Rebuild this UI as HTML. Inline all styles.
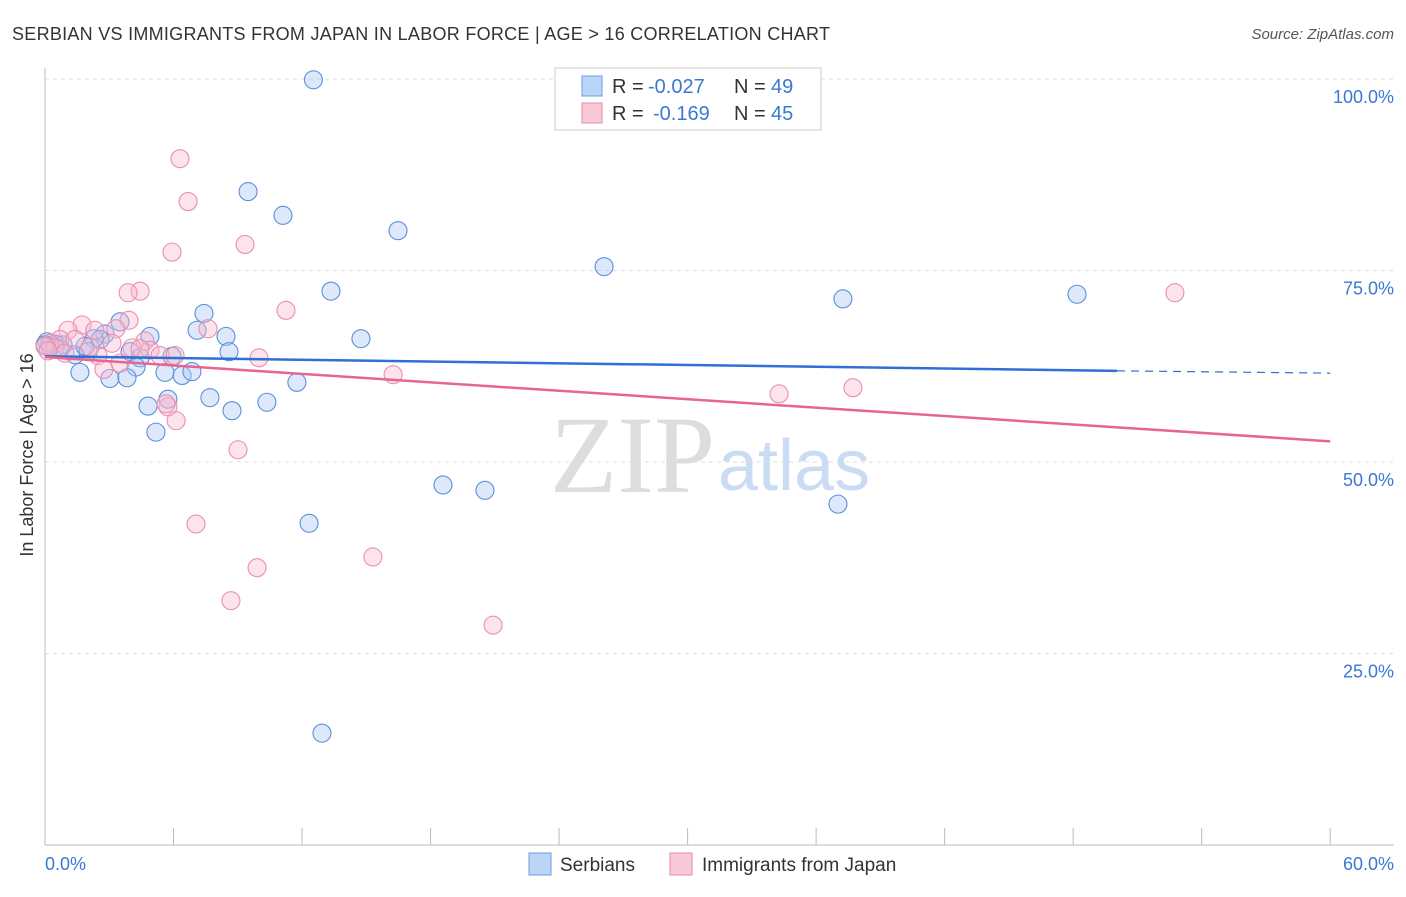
<!DOCTYPE html>
<html><head><meta charset="utf-8"><style>
body{margin:0;background:#fff;font-family:"Liberation Sans",sans-serif}
</style></head><body>
<svg id="c" width="1406" height="892" xmlns="http://www.w3.org/2000/svg" style="font-family:'Liberation Sans',sans-serif">
<text x="12" y="40" font-size="18" fill="#333" textLength="818">SERBIAN VS IMMIGRANTS FROM JAPAN IN LABOR FORCE | AGE &gt; 16 CORRELATION CHART</text>
<text x="1394" y="39" font-size="15" fill="#555" font-style="italic" text-anchor="end">Source: ZipAtlas.com</text>
<text x="715" y="492" font-size="110" fill="#ddd" text-anchor="end" font-family="Liberation Serif">ZIP</text>
<text x="718" y="490" font-size="72" fill="#c9dcf3">atlas</text>
<g id="grid"></g><g id="pts"></g><g id="trend"></g>
<text x="33" y="455" font-size="18" fill="#333" text-anchor="middle" transform="rotate(-90 33 455)">In Labor Force | Age &gt; 16</text>
<text x="45" y="870" font-size="18" fill="#3a78d4">0.0%</text>
<text x="1394" y="870" font-size="18" fill="#3a78d4" text-anchor="end">60.0%</text>
<g>
<rect x="555" y="68" width="266" height="62" fill="#fff" stroke="#ccc"/>
<rect x="582" y="76" width="20" height="20" fill="#bcd4f5" stroke="#6a9be0"/>
<rect x="582" y="103" width="20" height="20" fill="#f9c8d8" stroke="#e88aa8"/>
<text x="612" y="93" font-size="20" fill="#333">R =</text>
<text x="648" y="93" font-size="20" fill="#3a78d4">-0.027</text>
<text x="734" y="93" font-size="20" fill="#333">N =</text>
<text x="771" y="93" font-size="20" fill="#3a78d4">49</text>
<text x="612" y="120" font-size="20" fill="#333">R =</text>
<text x="653" y="120" font-size="20" fill="#3a78d4">-0.169</text>
<text x="734" y="120" font-size="20" fill="#333">N =</text>
<text x="771" y="120" font-size="20" fill="#3a78d4">45</text>
</g>
<g>
<rect x="529" y="853" width="22" height="22" fill="#bcd4f5" stroke="#6a9be0"/>
<text x="560" y="871" font-size="19" fill="#333">Serbians</text>
<rect x="670" y="853" width="22" height="22" fill="#f9c8d8" stroke="#e88aa8"/>
<text x="702" y="871" font-size="19" fill="#333">Immigrants from Japan</text>
</g>
</svg>
<script>
const yTicks=[25,50,75,100];
const yTickLabels=["25.0%","50.0%","75.0%","100.0%"];
const xTicks=[0,6,12,18,24,30,36,42,48,54,60];
const serbX=[12.53,9.48,11.11,16.48,26.1,13.35,37.25,48.18,7.42,3.5,4.9,7.1,8.45,14.75,2.8,2.29,0.47,0.7,1.4,2.01,3.97,5.93,8.59,4.44,4.25,1.63,3.03,3.83,5.6,6.4,6.86,11.76,5.74,4.81,7.7,8.73,10.36,5.18,18.58,20.54,37.02,12.33,12.93,0.23,0.84,0.09,1.87,2.57,0];
const serbY=[99.9,85.3,82.2,80.2,75.5,72.3,71.3,71.9,69.4,68.3,66.4,67.2,66.4,66.1,66.7,66.1,65.4,64.8,64.0,64.4,64.4,63.8,64.4,63.6,62.4,61.7,60.9,61.0,61.7,61.3,61.8,60.4,58.2,57.3,58.4,56.7,57.8,53.9,47.0,46.3,44.5,42.0,14.6,65.1,65.3,65.7,65.1,66.0,65.3];
const japX=[6.3,6.68,5.93,9.34,4.44,3.88,11.25,3.92,7.61,1.73,1.07,2.33,3.31,4.67,3.13,4.06,0.7,1.4,0.23,0.47,2.47,4.9,5.37,6.07,9.99,3.5,2.75,16.25,5.74,5.65,6.12,9.01,7.05,9.9,15.31,8.68,20.92,34.27,37.72,52.75,0,0.14,2.1,0.93,4.44];
const japY=[89.6,84.0,77.4,78.4,72.3,72.1,69.8,68.5,67.4,67.9,67.2,67.2,67.4,65.8,65.5,64.9,66.0,66.0,65.5,64.9,63.9,64.6,63.9,63.9,63.6,62.9,62.1,61.4,57.2,57.6,55.4,51.6,41.9,36.2,37.6,31.9,28.7,58.9,59.7,72.1,65.1,64.5,65.0,64.2,64.8];
const X=v=>45+v*21.42, Y=v=>845-v*7.66;
const NS="http://www.w3.org/2000/svg";
function mk(t,a,p){const e=document.createElementNS(NS,t);for(const k in a)e.setAttribute(k,a[k]);p.appendChild(e);return e;}
const g=document.getElementById('grid');
const ax=mk('line',{x1:45,y1:845,x2:1394,y2:845,stroke:'#bbb'},g);


const ay=mk('line',{x1:45,y1:68,x2:45,y2:845,stroke:'#bbb'},g);


yTicks.forEach((v,i)=>{
 const l=mk('line',{x1:45,y1:Y(v),x2:1394,y2:Y(v),stroke:'#ddd','stroke-dasharray':'4 4'},g);
 
 
 const t=mk('text',{x:1394,y:Y(v)+24,'font-size':18,fill:'#3a78d4','text-anchor':'end'},g);
 t.textContent=yTickLabels[i];
 
 
});
xTicks.forEach(v=>{
 const l=mk('line',{x1:X(v),y1:828,x2:X(v),y2:845,stroke:'#bbb'},g);
 
 
});
const P=document.getElementById('pts');
serbX.forEach((v,i)=>{
 const c=mk('circle',{cx:X(v),cy:Y(serbY[i]),r:9,fill:'rgba(170,200,242,0.4)',stroke:'#5b8fdc','stroke-width':1.1},P);
 
 
});
japX.forEach((v,i)=>{
 const c=mk('circle',{cx:X(v),cy:Y(japY[i]),r:9,fill:'rgba(248,185,208,0.4)',stroke:'#ea8fb0','stroke-width':1.1},P);
 
 
});
const T=document.getElementById('trend');
const b1=mk('line',{x1:X(0),y1:Y(63.8),x2:X(50.05),y2:Y(61.9),stroke:'#2f6fd6','stroke-width':2.5},T);


const b2=mk('line',{x1:X(50.05),y1:Y(61.9),x2:X(60),y2:Y(61.6),stroke:'#2f6fd6','stroke-width':1.2,'stroke-dasharray':'8 6'},T);


const p1=mk('line',{x1:X(0),y1:Y(63.7),x2:X(60),y2:Y(52.7),stroke:'#e56690','stroke-width':2.5},T);


</script>
</body></html>
